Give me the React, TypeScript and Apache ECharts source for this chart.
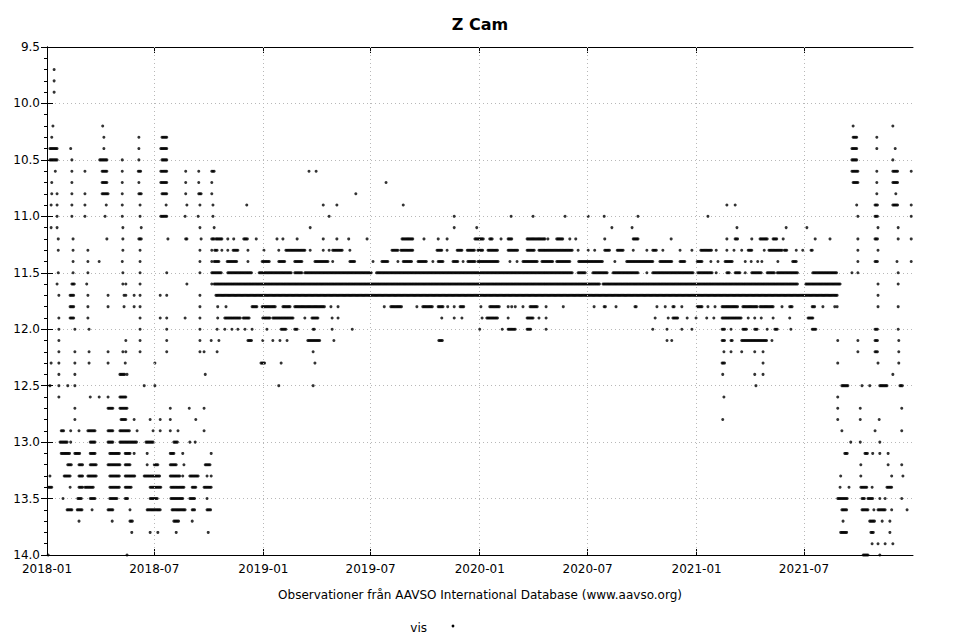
import React, { useEffect, useRef } from "react";
import * as echarts from "echarts";

// x = days since 2018-01-01, y = visual magnitude
const TICK_DAYS = [0, 181, 365, 546, 730, 912, 1096, 1277];
const TICK_LABELS = ["2018-01", "2018-07", "2019-01", "2019-07", "2020-01", "2020-07", "2021-01", "2021-07"];
const X_MAX = 1461;
const Y_MIN = 9.5;
const Y_MAX = 14.0;

// each row: [magnitude, "day day a-b ..."] ; "a-b" = a stretch of dense observations (every ~2 days)
const outbursts2018: [number, string][] = [
  [9.7, "12"],
  [9.8, "12"],
  [9.9, "12"],
  [10.2, "10 94"],
  [10.3, "8 96 155 194-202"],
  [10.4, "5-17 40 96 155 192-202"],
  [10.5, "5-17 42 89-101 127 155 194-202"],
  [10.6, "14 42 64 93-101 127 154-159 192-202 234 256 278-282"],
  [10.7, "8 42 93-101 127 155 192-202 234 256 278"],
  [10.8, "8 17 42 64 93-103 127 155-159 194-202 234 256-260 278"],
  [10.9, "7 17 42 64 100 127 157 201 236 258 280"],
  [11.0, "17 42 64 98 127 157 192-202 233 255 280"],
  [11.1, "7 17 128 159 258 282"],
  [11.2, "19 44 101 128 155-159 204 234-236 260 278-283"],
  [11.3, "19 44 69 128 157 258 278"],
  [11.4, "44 69 88 127 157 258 278"],
  [11.5, "19 44 69 128 157 202 258 278"],
  [11.6, "17 42-46 67 128 133 157 236 278"],
  [11.7, "20 39-46 69 103 130 133 147 157 191 202 258"],
  [11.8, "39-46 69 103 130 147 157 258"],
  [11.9, "20 39-46 69 157 191 202 233 258"],
  [12.0, "20 47 71 157 202 258"],
  [12.1, "20 133 157 202 258 277"],
  [12.2, "20 47 71 103 128 133 157 202 258 265"],
  [12.3, "7 20 47 71 103 132 182"],
  [12.4, "20 47 123-132 135"],
  [12.5, "5 20 35 47 164 182"],
  [12.6, "20 73 88 103 123-133"],
  [12.7, "47 103-111 123-135 208 240 265"],
  [12.8, "47 125-133 147 174 191 208 251"],
  [12.9, "24-29 40 54 69-81 103-111 123-140 152 179 191 208 221 265"],
  [13.0, "22-34 40 73-81 103-111 123-152 167-179 214-221 241 250"],
  [13.1, "24-39 47-56 73-81 106-123 132-140 147 169 208-214 229 277"],
  [13.2, "35-42 54-61 73-84 103-123 132-140 169 181-187 208-218 231 267-275"],
  [13.3, "5 29-39 54-61 69-84 106-123 132-148 164-191 208-224 229 241-255 270 277"],
  [13.4, "2-8 39 54-61 64-78 106-123 132-143 174-192 209-231 245-251 265-278"],
  [13.5, "27 52-59 73-81 106-118 132-137 174-187 209-229 241-250 270"],
  [13.6, "34-42 51-59 76 103-111 140 169-191 211-233 245-250 270-277"],
  [13.7, "54 110 140-145 214-223 245"],
  [13.8, "143 174 187 218 272"],
  [14.0, "2 135"],
];

const standstill: [number, string][] = [
  [10.6, "442 454"],
  [10.7, "572"],
  [10.8, "521"],
  [10.9, "337 466 489 601 1147 1161"],
  [11.0, "476 687 783 820 874 913 940 997 1115"],
  [11.1, "444 687 725 953 987 1164 1247 1282"],
  [11.2, "285-295 305 315 332-339 353 388 398 422 466 489 509 540 599-617 636 660 675 722-736 747-752 766 778-784 810-840 845 860-871 882 892 941 989-997 1053 1147 1161-1166 1189 1203-1215 1225-1232 1242 1296 1321"],
  [11.3, "283-287 295 305 314-322 339 366 391 403-435 444 466 476 482-499 511 582-592 597-617 658-666 675 692-700 709-722 727-736 744-761 778-795 810-823 830-886 896 913 924 941-950 962-972 989 1012 1022-1029 1039 1068 1088 1103-1122 1129 1147 1159 1172 1183-1189 1210 1218-1240 1244-1248 1264 1275 1289-1292"],
  [11.4, "282-290 304-321 339 363-376 391-402 418-430 452-474 482 511-520 550 565-575 592 601-616 626-641 651 660-668 685-693 702 710-722 727-761 781 793 803-827 835-854 860-882 897-938 958 978-1022 1034-1054 1068-1076 1097-1105 1120 1132 1144-1157 1178 1188 1199 1206 1233 1258-1265"],
  [11.5, "280-295 305-346 358-413 418-430 435-548 556-887 896-908 921-946 955-997 1012 1022-1090 1098-1122 1129 1147-1152 1161-1169 1178 1189-1206 1215-1228 1232-1267 1292-1333"],
  [11.6, "282-933 938-1267 1280-1338"],
  [11.7, "285-1334"],
  [11.8, "288 302 346-354 363-385 398-410 418-469 479 491 569 580-599 624 634-650 660-668 676 687 697-703 732 747-764 778 784 790 803 815-828 842 871 923 940-943 960 992-995 1029 1043 1056-1059 1071 1097-1105 1115 1127 1139-1166 1174-1199 1203-1225 1240 1253-1257 1291-1296 1309 1329 1333"],
  [11.9, "288 300-326 331-342 364-376 381-415 435 447-457 481 491 666 687 700 734 742-761 778 810-820 830 842 1026 1048 1056-1064 1080 1095 1113 1125 1139-1172 1183 1194 1205 1225 1253 1284-1292"],
  [12.0, "287 300 312 322 334 346 371 395-403 418-423 449-452 481 515 730 768 778-790 810-817 842 1022 1046 1071 1088 1139-1144 1154 1174-1181 1194-1199 1215 1228-1233 1255 1291-1297"],
  [12.1, "290 339-346 364 381 393 405 440-461 484 661-668 1046 1054 1139-1144 1154-1157 1172-1215 1223"],
  [12.2, "287 449 1142 1154 1172 1194 1208"],
  [12.3, "361-368 395 452 1139-1144 1208"],
  [12.4, "267 1140 1194 1208"],
  [12.5, "391 449 1196"],
  [12.6, "1142"],
  [12.8, "1140"],
];

const outbursts2021: [number, string][] = [
  [10.2, "1360 1427"],
  [10.3, "1360-1366 1400"],
  [10.4, "1358-1366 1400 1431"],
  [10.5, "1358-1366 1427"],
  [10.6, "1358-1368 1400 1427-1436 1458"],
  [10.7, "1360-1368 1400 1427-1436"],
  [10.8, "1400 1432"],
  [10.9, "1366 1397-1402 1427-1436 1458"],
  [11.0, "1368 1397-1402 1458"],
  [11.1, "1402 1436"],
  [11.2, "1368 1397-1402 1436 1458"],
  [11.3, "1368 1402"],
  [11.4, "1368 1397-1402 1434 1458"],
  [11.5, "1358 1368 1436"],
  [11.6, "1402 1436"],
  [11.7, "1402"],
  [11.8, "1402 1436"],
  [12.0, "1397-1402 1436"],
  [12.1, "1334 1368 1397-1402 1437"],
  [12.2, "1368 1397-1402 1437"],
  [12.3, "1334 1402 1437"],
  [12.4, "1427"],
  [12.5, "1341-1351 1375 1388 1405-1417 1439-1444"],
  [12.6, "1334"],
  [12.7, "1334 1372 1442"],
  [12.8, "1334 1372 1404"],
  [12.9, "1341 1397 1442"],
  [13.0, "1356 1372 1405"],
  [13.1, "1346-1351 1380-1385 1393 1405 1419"],
  [13.2, "1373 1419 1442"],
  [13.3, "1339 1373 1425 1444"],
  [13.4, "1338 1353 1373-1383 1392 1417-1425"],
  [13.5, "1334-1351 1375-1380 1385-1393 1405 1414 1442"],
  [13.6, "1341-1350 1375-1385 1395 1402-1414 1425 1451"],
  [13.7, "1343 1388-1397 1409 1422"],
  [13.8, "1339-1350 1390-1395 1422"],
  [13.9, "1392 1402 1414 1427"],
  [14.0, "1377-1385 1405"],
];

function expand(rows: [number, string][]): number[][] {
  const out: number[][] = [];
  for (const [mag, s] of rows) {
    for (const tok of s.split(/\s+/)) {
      if (!tok) continue;
      if (tok.includes("-")) {
        const [a, b] = tok.split("-").map(Number);
        for (let d = a; d <= b; d += 2) out.push([d, mag]);
      } else {
        out.push([Number(tok), mag]);
      }
    }
  }
  return out;
}

const FONT = "DejaVu Sans";

export default function App() {
  const ref = useRef<HTMLDivElement>(null);
  useEffect(() => {
    if (!ref.current) return;
    const chart = echarts.init(ref.current, undefined, { renderer: "svg" });
    const data = [...expand(outbursts2018), ...expand(standstill), ...expand(outbursts2021)];
    const black = { color: "#000", width: 1 };
    const grid = { color: "#b8b8b8", width: 1, type: [1, 3] as any };
    chart.setOption({
      animation: false,
      backgroundColor: "#fff",
      title: {
        text: "Z Cam",
        left: "center",
        top: 11,
        textStyle: { fontFamily: FONT, fontSize: 16, fontWeight: "bold", color: "#000" },
      },
      grid: { left: 47, right: 47, top: 47, bottom: 85 },
      xAxis: [
        {
          type: "value",
          min: 0,
          max: X_MAX,
          position: "bottom",
          axisLine: { show: true, lineStyle: black },
          axisTick: { show: true, inside: true, length: 6, customValues: TICK_DAYS, lineStyle: black },
          axisLabel: {
            customValues: TICK_DAYS,
            formatter: (v: number) => {
              const i = TICK_DAYS.indexOf(Math.round(v));
              return i >= 0 ? TICK_LABELS[i] : "";
            },
            color: "#000",
            fontFamily: FONT,
            fontSize: 12,
            margin: 8,
          },
          splitLine: { show: false },
        },
        {
          type: "value",
          min: 0,
          max: X_MAX,
          position: "top",
          axisLine: { show: true, lineStyle: black },
          axisTick: { show: true, inside: true, length: 6, customValues: TICK_DAYS, lineStyle: black },
          axisLabel: { show: false },
          splitLine: { show: false },
        },
      ],
      yAxis: [
        {
          type: "value",
          inverse: true,
          min: Y_MIN,
          max: Y_MAX,
          interval: 0.5,
          position: "left",
          axisLine: { show: true, lineStyle: black },
          axisTick: { show: true, inside: true, length: 6, lineStyle: black },
          axisLabel: {
            formatter: (v: number) => v.toFixed(1),
            color: "#000",
            fontFamily: FONT,
            fontSize: 12,
            margin: 7,
          },
          splitLine: { show: true, lineStyle: grid },
        },
        {
          type: "value",
          inverse: true,
          min: Y_MIN,
          max: Y_MAX,
          interval: 0.5,
          position: "right",
          axisLine: { show: true, lineStyle: black },
          axisTick: { show: true, inside: true, length: 6, lineStyle: black },
          minorTick: { show: true, splitNumber: 5, length: 3, lineStyle: black },
          axisLabel: { show: false },
          splitLine: { show: false },
        },
      ],
      series: [
        {
          name: "grid",
          type: "scatter",
          data: [],
          silent: true,
          markLine: {
            silent: true,
            symbol: ["none", "none"],
            label: { show: false },
            lineStyle: grid,
            data: TICK_DAYS.slice(1).map((d) => ({ xAxis: d })),
          },
        },
        {
          name: "vis",
          type: "scatter",
          data,
          symbol: "circle",
          symbolSize: 3,
          itemStyle: { color: "#000" },
          silent: true,
        },
      ],
      graphic: [
        {
          type: "text",
          x: 480,
          y: 595,
          style: {
            text: "Observationer från AAVSO International Database (www.aavso.org)",
            fontFamily: FONT,
            fontSize: 12,
            fill: "#000",
            textAlign: "center",
            textVerticalAlign: "middle",
          },
        },
        {
          type: "text",
          x: 427,
          y: 628,
          style: {
            text: "vis",
            fontFamily: FONT,
            fontSize: 12,
            fill: "#000",
            textAlign: "right",
            textVerticalAlign: "middle",
          },
        },
        {
          type: "circle",
          shape: { cx: 453, cy: 626, r: 1.4 },
          style: { fill: "#000" },
        },
      ],
    });
    return () => chart.dispose();
  }, []);
  return (
    <div
      ref={ref}
      style={{ position: "fixed", left: 0, top: 0, width: 960, height: 640, background: "#fff" }}
    />
  );
}
